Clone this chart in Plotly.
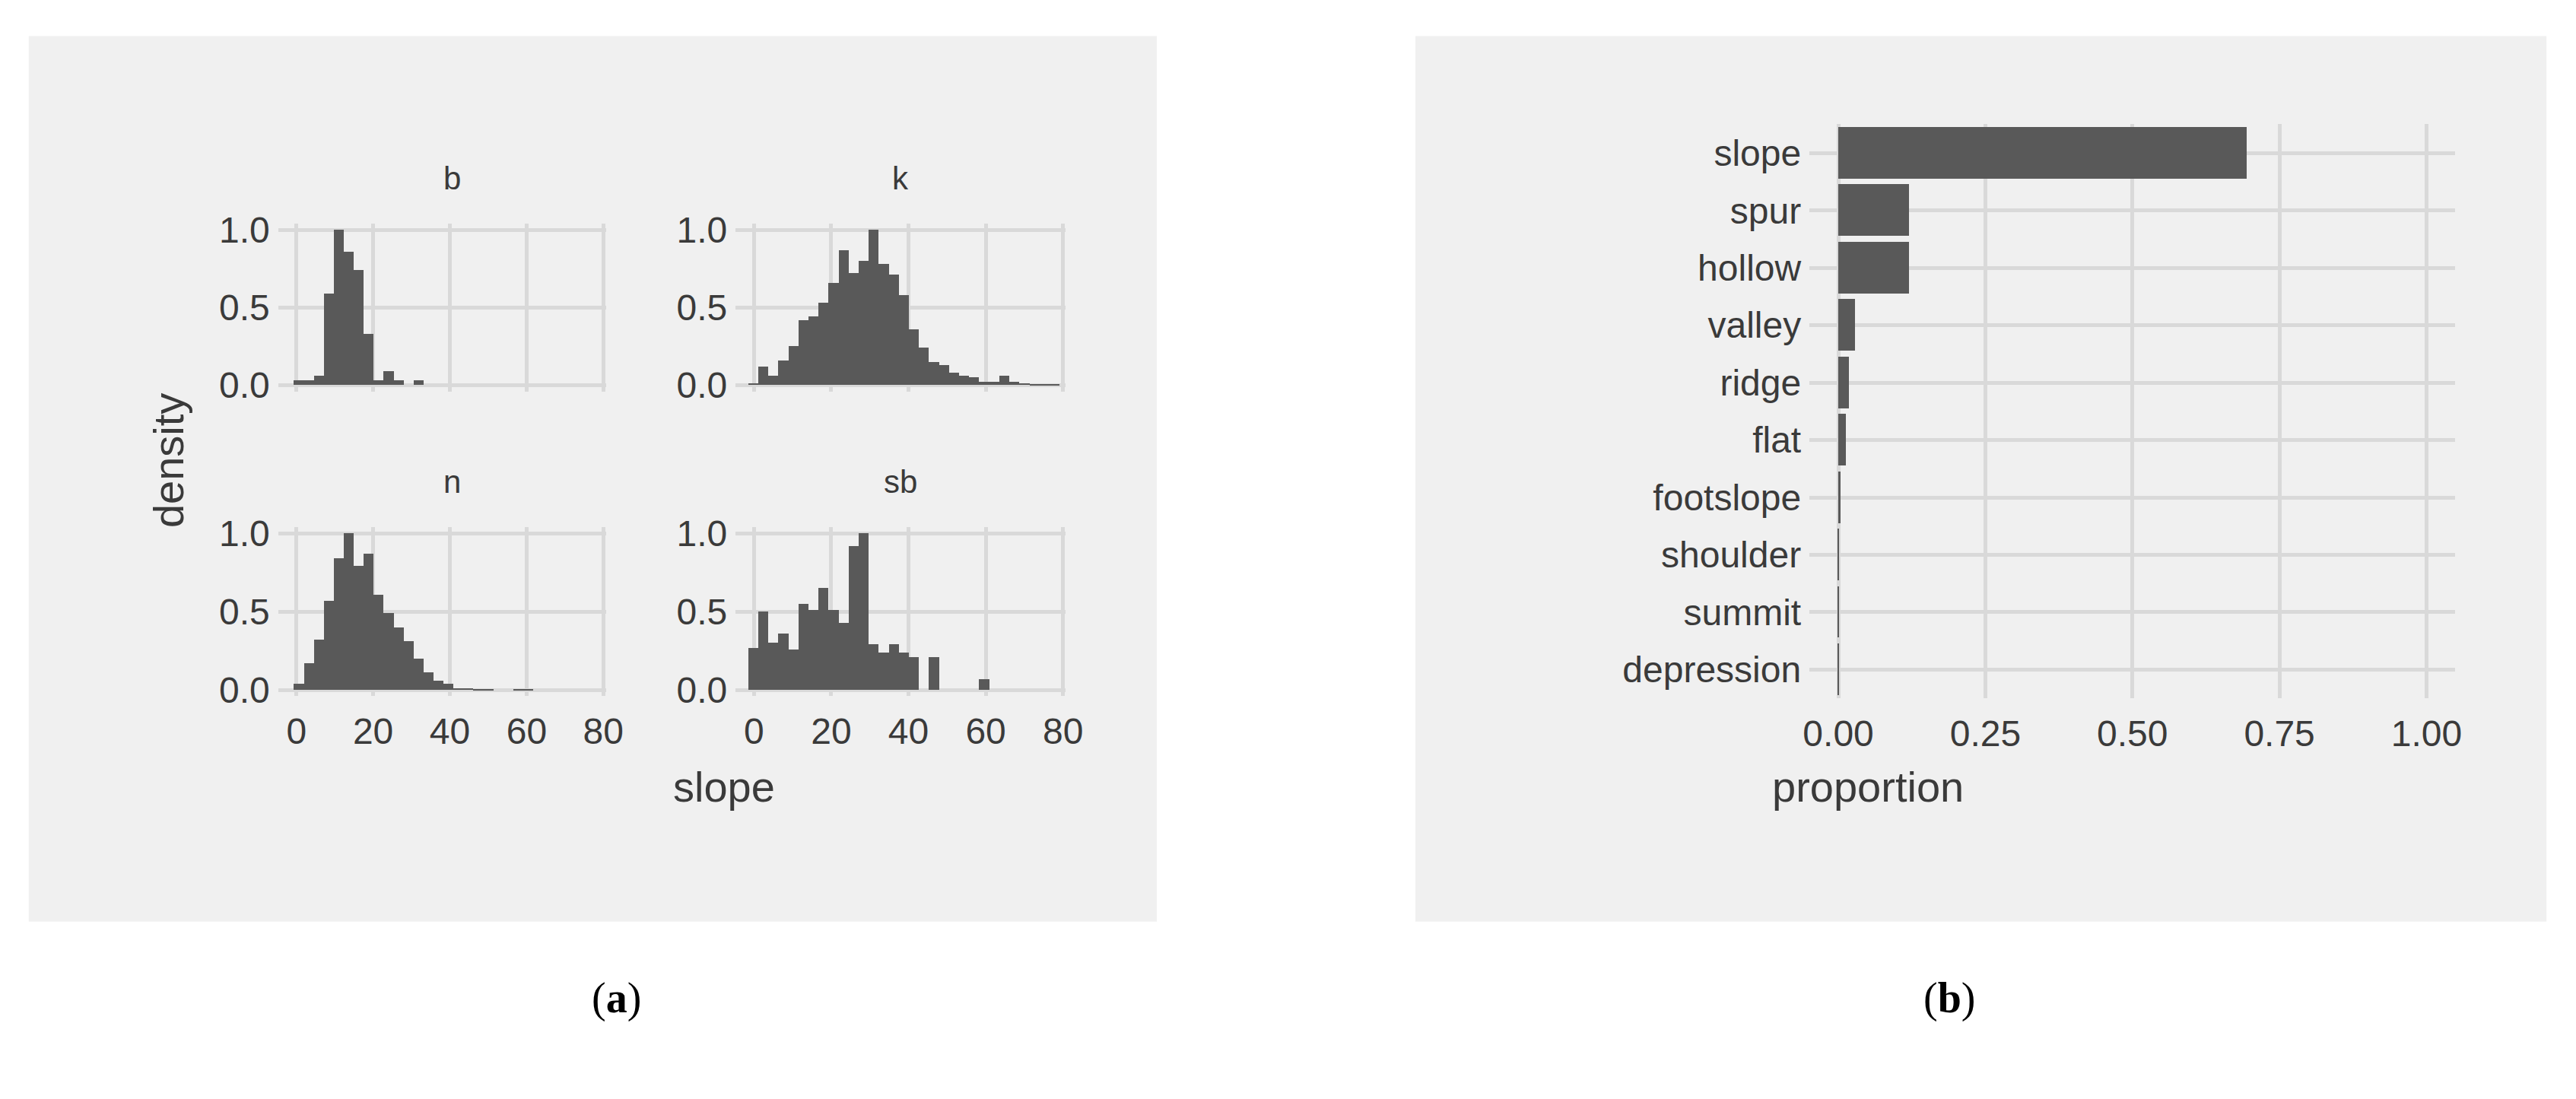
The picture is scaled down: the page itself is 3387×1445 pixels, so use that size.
import plotly.graph_objects as go

W, H = 3387, 1445
bin_w = 2.6
b_start, b_vals = -0.7, [0.03,0.03,0.06,0.59,1.0,0.86,0.74,0.33,0.03,0.09,0.03,0,0.03]
k_start, k_vals = -1.45, [0.01,0.12,0.06,0.16,0.25,0.42,0.44,0.53,0.66,0.87,0.72,0.80,1.0,0.78,0.71,0.58,0.36,0.24,0.15,0.13,0.08,0.06,0.05,0.02,0.02,0.06,0.02,0.01,0.005,0.005,0.005]
n_start, n_vals = -0.7, [0.04,0.17,0.32,0.57,0.84,1.0,0.79,0.87,0.61,0.49,0.40,0.31,0.20,0.11,0.06,0.04,0.01,0.01,0.005,0.005,0,0,0.005,0.005]
sb_start, sb_vals = -1.45, [0.27,0.50,0.30,0.36,0.26,0.55,0.51,0.65,0.51,0.43,0.92,1.0,0.29,0.24,0.29,0.24,0.21,0,0.21,0,0,0,0,0.07]

landforms = ["slope","spur","hollow","valley","ridge","flat","footslope","shoulder","summit","depression"]
proportions = [0.695,0.12,0.12,0.028,0.018,0.013,0.004,0.002,0.002,0.0005]

BAR = "#595959"; BG = "#f0f0f0"; GRID = "#d9d9d9"; TXT = "#3a3a3a"
FONT = "Liberation Sans"
TICK = 48

fig = go.Figure()
panels = [
    ("b", b_start, b_vals, (353, 788), (275, 501), False),
    ("k", k_start, k_vals, (960, 1398), (275, 501), False),
    ("n", n_start, n_vals, (353, 788), (684, 912), True),
    ("sb", sb_start, sb_vals, (960, 1398), (684, 912), True),
]
shapes = [
    dict(type="rect", xref="paper", yref="paper", x0=22/W, x1=1519/W, y0=1-1216/H, y1=1-22/H, fillcolor=BG, line_width=0, layer="below"),
    dict(type="rect", xref="paper", yref="paper", x0=1862/W, x1=3363/W, y0=1-1216/H, y1=1-22/H, fillcolor=BG, line_width=0, layer="below"),
]
ann = []
for i, (name, start, vals, xs, ys, showx) in enumerate(panels, start=1):
    centers = [start + bin_w * (j + 0.5) for j in range(len(vals))]
    xa = "x" if i == 1 else f"x{i}"
    ya = "y" if i == 1 else f"y{i}"
    fig.add_trace(go.Bar(x=centers, y=vals, width=bin_w, marker=dict(color=BAR, line_width=0),
                         xaxis=xa, yaxis=ya, showlegend=False))
    ax = dict(domain=[xs[0]/W, xs[1]/W], range=[-4.75, 80.7], tickvals=[0,20,40,60,80],
              showticklabels=showx, gridcolor=GRID, gridwidth=5, zeroline=False, showline=False,
              tickfont=dict(size=TICK, color=TXT, family=FONT), anchor=ya, ticks="", ticklabelstandoff=14)
    ay = dict(domain=[1-ys[1]/H, 1-ys[0]/H], range=[-0.04, 1.04], tickvals=[0,0.5,1.0],
              ticktext=["0.0","0.5","1.0"], gridcolor=GRID, gridwidth=5, zeroline=False,
              tickfont=dict(size=TICK, color=TXT, family=FONT), anchor=xa, ticks="", ticklabelstandoff=10)
    fig.layout["xaxis" if i == 1 else f"xaxis{i}"] = ax
    fig.layout["yaxis" if i == 1 else f"yaxis{i}"] = ay
    ann.append(dict(text=name, x=(xs[0]+xs[1])/2/W, y=1-(ys[0]-61)/H, xref="paper", yref="paper",
                    showarrow=False, font=dict(size=42, color=TXT, family=FONT), yanchor="middle"))

fig.add_trace(go.Bar(x=proportions, y=landforms, orientation="h", width=0.9,
                     marker=dict(color=BAR, line_width=0), xaxis="x5", yaxis="y5", showlegend=False))
fig.layout["xaxis5"] = dict(domain=[2385/W, 3242/W], range=[-0.049, 1.049], tickvals=[0,0.25,0.5,0.75,1.0],
                            ticktext=["0.00","0.25","0.50","0.75","1.00"], gridcolor=GRID, gridwidth=5,
                            zeroline=False, tickfont=dict(size=TICK, color=TXT, family=FONT), anchor="y5",
                            ticks="", ticklabelstandoff=14)
fig.layout["yaxis5"] = dict(domain=[1-915/H, 1-141/H], autorange="reversed", categoryorder="array",
                            categoryarray=landforms, gridcolor=GRID, gridwidth=5, zeroline=False,
                            tickfont=dict(size=TICK, color=TXT, family=FONT), anchor="x5", ticks="",
                            ticklabelstandoff=10)

ann += [
    dict(text="density", x=173/W, y=1-594/H, textangle=-90, font=dict(size=56, color=TXT, family=FONT)),
    dict(text="slope", x=875/W, y=1-1069/H, font=dict(size=56, color=TXT, family=FONT)),
    dict(text="proportion", x=2592/W, y=1-1069/H, font=dict(size=56, color=TXT, family=FONT)),
    dict(text="(<b>a</b>)", x=767/W, y=1-1354/H, font=dict(size=56, color="black", family="Liberation Serif")),
    dict(text="(<b>b</b>)", x=2607/W, y=1-1354/H, font=dict(size=56, color="black", family="Liberation Serif")),
]
for a in ann:
    a.setdefault("xref", "paper"); a.setdefault("yref", "paper"); a.setdefault("showarrow", False)

fig.update_layout(width=W, height=H, margin=dict(l=0, r=0, t=0, b=0), paper_bgcolor="white",
                  plot_bgcolor=BG, shapes=shapes, annotations=ann, bargap=0)
fig.write_html("out.html")
